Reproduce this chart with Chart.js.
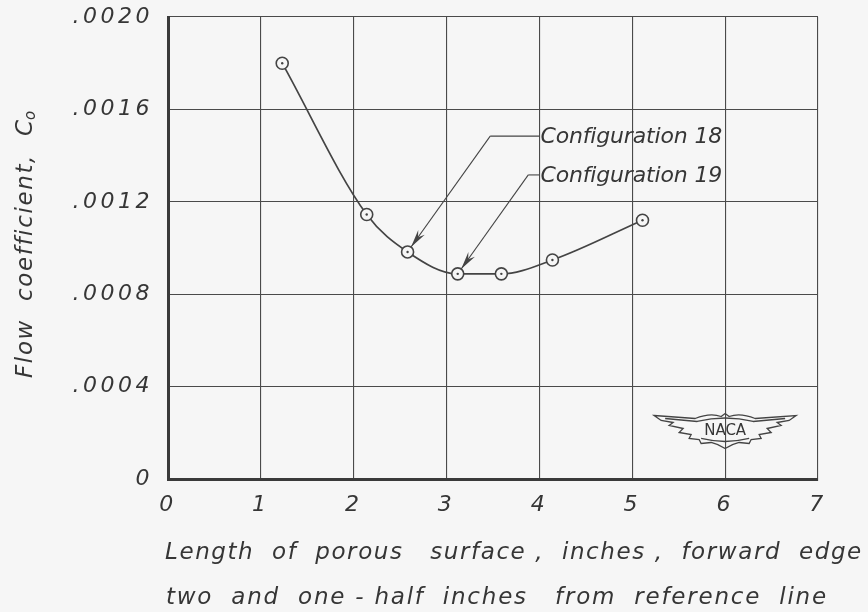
<!DOCTYPE html>
<html>
<head>
<meta charset="utf-8">
<script src="https://cdn.jsdelivr.net/npm/chart.js@4"></script>
<style>
  body { margin: 0; background: #f6f6f6; }
  #wrap { width: 868px; height: 612px; position: relative; }
</style>
</head>
<body>
<div id="wrap"><canvas id="flowChart"></canvas></div>
<script>
// values
const lengths = [1.23, 2.14, 2.58, 3.12, 3.59, 4.14, 5.11];
const flowCoefficients = [0.00180, 0.001145, 0.000983, 0.000888, 0.000888, 0.000948, 0.00112];
const xTicks = [0, 1, 2, 3, 4, 5, 6, 7];
const yTicks = [0, 0.0004, 0.0008, 0.0012, 0.0016, 0.0020];
const configLabels = ['Configuration 18', 'Configuration 19'];
const configPoints = [2, 3];   // index into lengths / flowCoefficients

const ink = '#363636';
const lineInk = '#444';
const font = '"DejaVu Sans", sans-serif';

// draw text stretched by letter spacing to a given width
function spacedText(ctx, text, x, y, width) {
    ctx.letterSpacing = '0px';
    const w = ctx.measureText(text).width;
    const s = (width - w) / text.length;
    ctx.letterSpacing = s.toFixed(2) + 'px';
    ctx.textAlign = 'left';
    ctx.fillText(text, x, y);
    ctx.letterSpacing = '0px';
}

function arrowTo(ctx, x0, y0, x1, y1) {
    const ang = Math.atan2(y1 - y0, x1 - x0);
    ctx.beginPath();
    ctx.moveTo(x0, y0);
    ctx.lineTo(x1, y1);
    ctx.stroke();
    const len = 18, half = 4;
    ctx.save();
    ctx.translate(x1, y1);
    ctx.rotate(ang);
    ctx.beginPath();
    ctx.moveTo(0, 0);
    ctx.lineTo(-len, -half);
    ctx.lineTo(-len + 6, 0);
    ctx.lineTo(-len, half);
    ctx.closePath();
    ctx.fill();
    ctx.restore();
}

function drawNaca(ctx, cx, cy) {
    ctx.save();
    ctx.translate(cx, cy);
    ctx.strokeStyle = lineInk;
    ctx.lineWidth = 1.3;
    // wings outline
    ctx.beginPath();
    ctx.moveTo(-71, -15);
    ctx.lineTo(-30, -12);
    ctx.quadraticCurveTo(-15, -18, -4, -14);
    ctx.lineTo(0, -17);
    ctx.lineTo(4, -14);
    ctx.quadraticCurveTo(15, -18, 30, -12);
    ctx.lineTo(71, -15);
    ctx.lineTo(64, -10);
    ctx.lineTo(52, -8);
    ctx.lineTo(56, -5);
    ctx.lineTo(42, -2);
    ctx.lineTo(46, 2);
    ctx.lineTo(34, 4);
    ctx.lineTo(36, 8);
    ctx.lineTo(26, 9);
    ctx.lineTo(24, 13);
    ctx.lineTo(14, 12);
    ctx.quadraticCurveTo(6, 14, 0, 18);
    ctx.quadraticCurveTo(-6, 14, -14, 12);
    ctx.lineTo(-24, 13);
    ctx.lineTo(-26, 9);
    ctx.lineTo(-36, 8);
    ctx.lineTo(-34, 4);
    ctx.lineTo(-46, 2);
    ctx.lineTo(-42, -2);
    ctx.lineTo(-56, -5);
    ctx.lineTo(-52, -8);
    ctx.lineTo(-64, -10);
    ctx.closePath();
    ctx.stroke();
    // inner band round the name
    ctx.beginPath();
    ctx.moveTo(-60, -12);
    ctx.lineTo(-28, -9);
    ctx.quadraticCurveTo(0, -16, 28, -9);
    ctx.lineTo(60, -12);
    ctx.stroke();
    ctx.beginPath();
    ctx.moveTo(-24, 8);
    ctx.quadraticCurveTo(0, 14, 24, 8);
    ctx.stroke();
    ctx.fillStyle = ink;
    ctx.font = '15px ' + font;
    ctx.textAlign = 'center';
    ctx.textBaseline = 'middle';
    ctx.fillText('NACA', 0, 1);
    ctx.restore();
}

const decorations = {
    id: 'decorations',
    beforeDraw(chart) {
        chart.ctx.letterSpacing = '3.5px';
    },
    afterDatasetsDraw(chart) {
        const ctx = chart.ctx;
        const x = chart.scales.x, y = chart.scales.y;
        const meta = chart.getDatasetMeta(0);
        ctx.save();
        ctx.letterSpacing = '0px';

        // small dot in the middle of every circle
        ctx.fillStyle = lineInk;
        meta.data.forEach(p => {
            ctx.beginPath();
            ctx.arc(p.x, p.y, 1.2, 0, Math.PI * 2);
            ctx.fill();
        });

        // configuration leaders
        const labelAt = [[4.0, 0.00148], [4.0, 0.001312]];
        const elbowX = [3.47, 3.88];
        ctx.strokeStyle = lineInk;
        ctx.lineWidth = 1.1;
        configLabels.forEach((label, i) => {
            const p = meta.data[configPoints[i]];
            const lx = x.getPixelForValue(labelAt[i][0]);
            const ly = y.getPixelForValue(labelAt[i][1]);
            const ex = x.getPixelForValue(elbowX[i]);
            ctx.beginPath();
            ctx.moveTo(lx, ly - 1);
            ctx.lineTo(ex, ly - 1);
            ctx.stroke();
            const dx = p.x - ex, dy = p.y - (ly - 1);
            const d = Math.hypot(dx, dy);
            const r = 6;
            ctx.fillStyle = lineInk;
            arrowTo(ctx, ex, ly - 1, p.x - dx / d * r, p.y - dy / d * r);

            ctx.fillStyle = ink;
            ctx.font = 'italic 22px ' + font;
            ctx.textBaseline = 'middle';
            spacedText(ctx, label, lx + 1, ly, 182);
        });

        drawNaca(ctx, x.getPixelForValue(6.0), y.getPixelForValue(0.00021));
        ctx.restore();
    },
    afterDraw(chart) {
        const ctx = chart.ctx;
        ctx.save();
        ctx.fillStyle = ink;
        ctx.textBaseline = 'middle';
        ctx.font = 'italic 23px ' + font;
        spacedText(ctx, 'Length  of  porous   surface ,  inches ,  forward  edge', 165, 553, 698);
        spacedText(ctx, 'two  and  one - half  inches   from  reference  line', 166, 598, 662);

        // y title with subscript
        ctx.translate(26, 378);
        ctx.rotate(-Math.PI / 2);
        ctx.font = 'italic 23px ' + font;
        const main = 'Flow  coefficient,  C';
        spacedText(ctx, main, 0, 0, 260);
        ctx.font = 'italic 15px ' + font;
        ctx.fillText('o', 258, 5);
        ctx.restore();
    }
};

const ctx = document.getElementById('flowChart').getContext('2d');
new Chart(ctx, {
    type: 'line',
    data: {
        datasets: [{
            data: lengths.map((v, i) => ({ x: v, y: flowCoefficients[i] })),
            borderColor: lineInk,
            borderWidth: 1.7,
            cubicInterpolationMode: 'monotone',
            pointRadius: 6,
            pointBorderWidth: 1.6,
            pointBorderColor: lineInk,
            pointBackgroundColor: '#f6f6f6',
            fill: false
        }]
    },
    options: {
        responsive: true,
        maintainAspectRatio: false,
        animation: false,
        layout: { padding: { top: 17, right: 50, left: 0, bottom: 0 } },
        plugins: {
            legend: { display: false },
            tooltip: { enabled: false }
        },
        scales: {
            x: {
                type: 'linear',
                min: 0,
                max: 7,
                afterFit: s => { s.height = 133; s.paddingLeft = 0; s.paddingRight = 0; },
                afterBuildTicks: s => { s.ticks = xTicks.map(v => ({ value: v })); },
                ticks: {
                    color: ink,
                    padding: 13,
                    maxRotation: 0,
                    font: { family: font, size: 22, style: 'italic' },
                    callback: v => String(v)
                },
                grid: { color: '#4a4a4a', lineWidth: 1.1, drawTicks: false },
                border: { color: '#3a3a3a', width: 3 }
            },
            y: {
                min: 0,
                max: 0.002,
                afterFit: s => { s.width = 168; s.paddingTop = 0; s.paddingBottom = 0; },
                afterBuildTicks: s => { s.ticks = yTicks.map(v => ({ value: v })); },
                ticks: {
                    color: ink,
                    padding: 15,
                    font: { family: font, size: 22, style: 'italic' },
                    callback: v => v === 0 ? '0' : '.' + String(Math.round(v * 10000)).padStart(4, '0')
                },
                grid: { color: '#4a4a4a', lineWidth: 1.1, drawTicks: false },
                border: { color: '#3a3a3a', width: 3 }
            }
        }
    },
    plugins: [decorations]
});
</script>
</body>
</html>
